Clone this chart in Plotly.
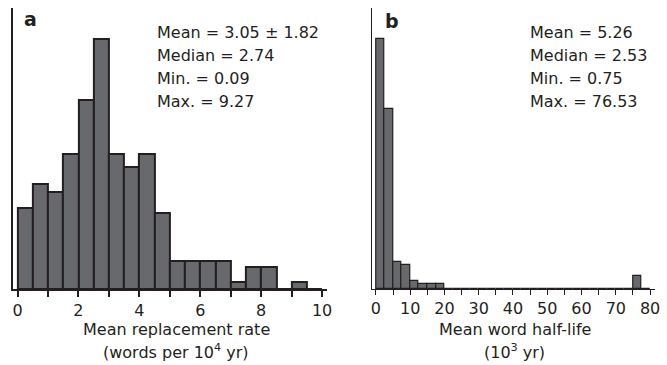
import plotly.graph_objects as go

# ---- data ----
bins_a = [0, 0.5, 1, 1.5, 2, 2.5, 3, 3.5, 4, 4.5, 5, 5.5, 6, 6.5, 7, 7.5, 8, 8.5, 9, 9.5]
counts_a = [12, 15.6, 14.4, 20, 28, 37, 20, 18, 20, 11.2, 4.2, 4.2, 4.2, 4.2, 1, 3.2, 3.2, 0, 1, 0]
width_a = 0.5

bins_b = [0, 2.5, 5, 7.5, 10, 12.5, 15, 17.5, 20, 22.5, 25, 27.5, 30, 32.5, 35, 37.5, 40,
          42.5, 45, 47.5, 50, 52.5, 55, 57.5, 60, 62.5, 65, 67.5, 70, 72.5, 75, 77.5]
counts_b = [92, 66, 10, 8.7, 3, 2, 2, 2, 0, 0, 0, 0, 0, 0, 0, 0, 0,
            0, 0, 0, 0, 0, 0, 0, 0, 0, 0, 0, 0, 0, 4.8, 0]
width_b = 2.5

stats_a = ["Mean = 3.05 \u00b1 1.82", "Median = 2.74", "Min. = 0.09", "Max. = 9.27"]
stats_b = ["Mean = 5.26", "Median = 2.53", "Min. = 0.75", "Max. = 76.53"]
title_a = ["Mean replacement rate", "(words per 10<sup>4</sup> yr)"]
title_b = ["Mean word half-life", "(10<sup>3</sup> yr)"]

# ---- geometry helpers ----
W, H = 667, 365
TOP, BOT = 8, 289
def px_x(x):
    return x / W
def px_y(y):
    return (BOT - y) / (BOT - TOP)

FONT = "DejaVu Sans"
INK = "#231f20"
FILL = "#68696d"

fig = go.Figure()
fig.add_trace(go.Bar(x=bins_a, y=counts_a, width=width_a, offset=0,
                     marker=dict(color=FILL, line=dict(color=INK, width=2)),
                     xaxis="x", yaxis="y", showlegend=False))
fig.add_trace(go.Bar(x=bins_b, y=counts_b, width=width_b, offset=0,
                     marker=dict(color=FILL, line=dict(color=INK, width=1.2)),
                     xaxis="x2", yaxis="y2", showlegend=False))

tickfont = dict(family=FONT, size=16, color=INK)
fig.update_layout(
    width=W, height=H,
    margin=dict(l=0, r=0, t=TOP, b=H - BOT, pad=0),
    paper_bgcolor="white", plot_bgcolor="white",
    bargap=0,
    xaxis=dict(domain=[px_x(12), px_x(329)], range=[-0.153, 10.163],
               showline=True, linecolor=INK, linewidth=2, showgrid=False, zeroline=False,
               ticks="outside", ticklen=6, tickwidth=2, tickcolor=INK,
               tick0=0, dtick=2, tickfont=tickfont,
               minor=dict(dtick=1, tick0=0, ticks="outside", ticklen=6, tickwidth=2,
                          tickcolor=INK, showgrid=False)),
    yaxis=dict(domain=[0, 1], range=[0, 41.57], showline=True, linecolor=INK, linewidth=2,
               showgrid=False, zeroline=False, ticks="", showticklabels=False),
    xaxis2=dict(domain=[px_x(374.7), px_x(660)], range=[-1.04, 81.45], anchor="y2",
                showline=True, linecolor=INK, linewidth=1.2, showgrid=False, zeroline=False,
                ticks="outside", ticklen=5, tickwidth=1.2, tickcolor=INK,
                tick0=0, dtick=10, tickfont=tickfont,
                minor=dict(dtick=5, tick0=0, ticks="outside", ticklen=5, tickwidth=1.2,
                           tickcolor=INK, showgrid=False)),
    yaxis2=dict(domain=[0, 1], range=[0, 103.3], anchor="x2", showline=True, linecolor=INK,
                linewidth=1.2, showgrid=False, zeroline=False, ticks="", showticklabels=False),
)

annotations = []
# panel letters
annotations.append(dict(text="<b>a</b>", x=px_x(21), y=px_y(19), xref="paper", yref="paper",
                        xanchor="left", yanchor="middle", showarrow=False,
                        font=dict(family=FONT, size=19, color=INK)))
annotations.append(dict(text="<b>b</b>", x=px_x(385.5), y=px_y(21), xref="paper", yref="paper",
                        xanchor="left", yanchor="middle", showarrow=False,
                        font=dict(family=FONT, size=19, color=INK)))
# stats
line_y = [32.5, 55.3, 78.3, 101]
for txt, yy in zip(stats_a, line_y):
    annotations.append(dict(text=txt, x=px_x(155), y=px_y(yy), xref="paper", yref="paper",
                            xanchor="left", yanchor="middle", showarrow=False,
                            font=dict(family=FONT, size=16, color=INK)))
for txt, yy in zip(stats_b, line_y):
    annotations.append(dict(text=txt, x=px_x(532), y=px_y(yy), xref="paper", yref="paper",
                            xanchor="left", yanchor="middle", showarrow=False,
                            font=dict(family=FONT, size=16, color=INK)))
# axis titles
title_y = [329, 351]
for txt, yy in zip(title_a, title_y):
    annotations.append(dict(text=txt, x=px_x(176.7), y=px_y(yy), xref="paper", yref="paper",
                            xanchor="center", yanchor="middle", showarrow=False,
                            font=dict(family=FONT, size=16, color=INK)))
for txt, yy in zip(title_b, title_y):
    annotations.append(dict(text=txt, x=px_x(518.5), y=px_y(yy), xref="paper", yref="paper",
                            xanchor="center", yanchor="middle", showarrow=False,
                            font=dict(family=FONT, size=16, color=INK)))
fig.update_layout(annotations=annotations)

fig.write_html("out.html", config={"displayModeBar": False},
               post_script="document.body.style.margin='0';")
